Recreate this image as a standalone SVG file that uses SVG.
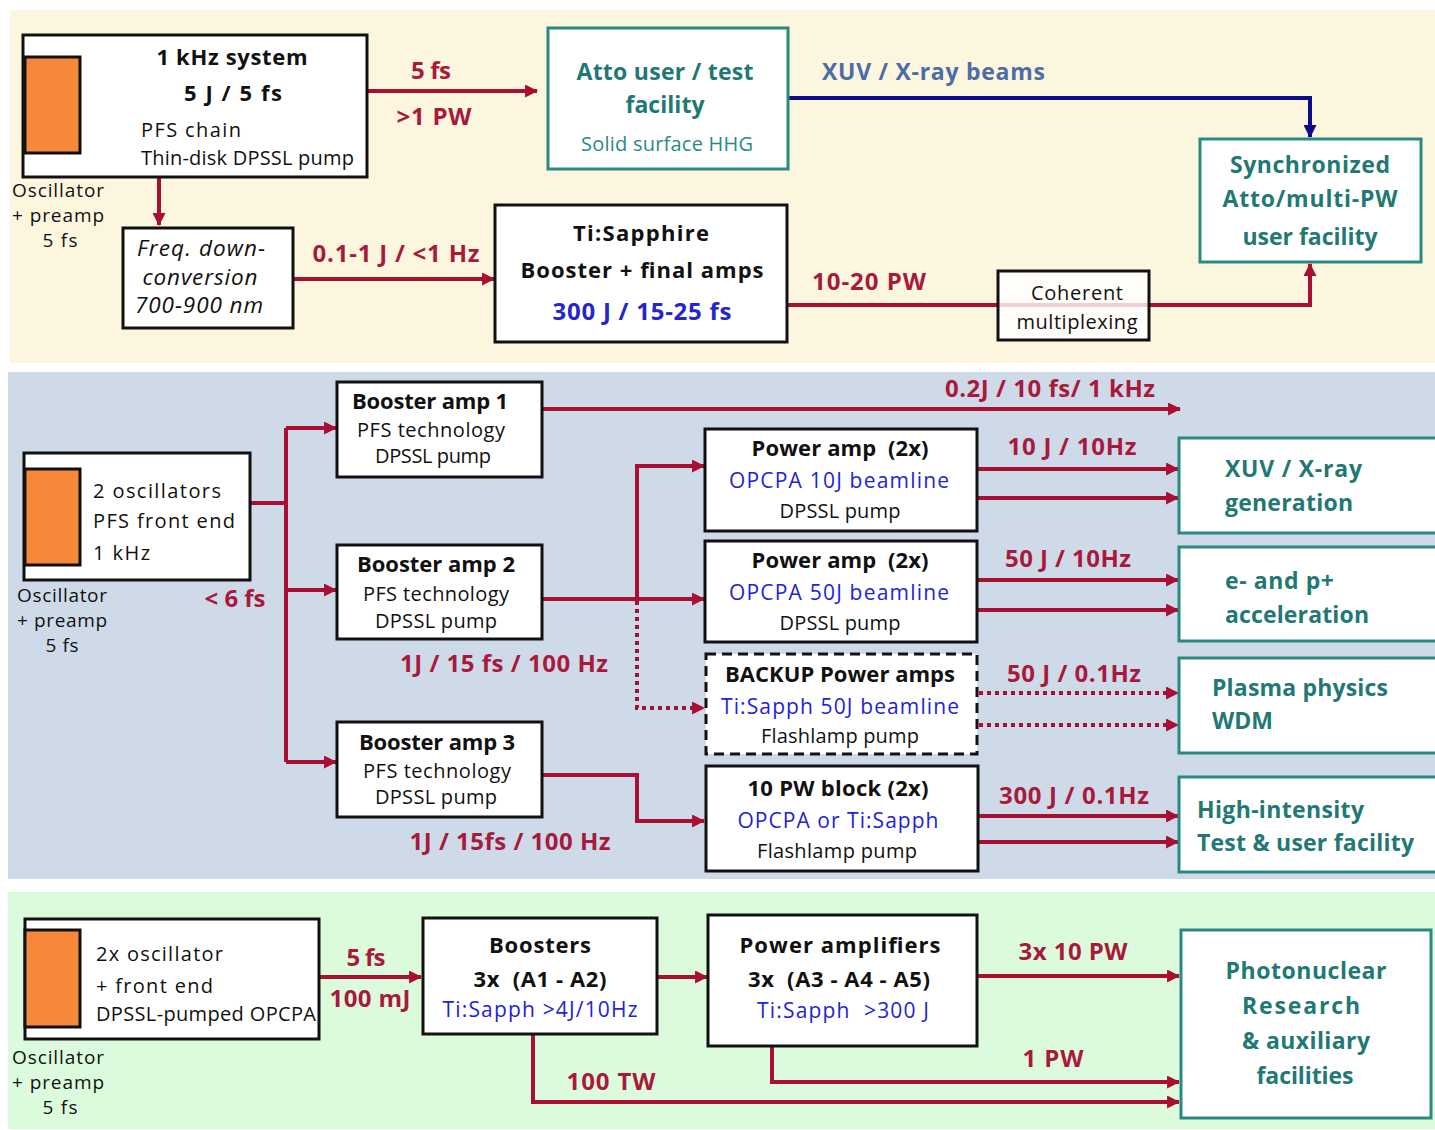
<svg xmlns="http://www.w3.org/2000/svg" width="1435" height="1130" viewBox="0 0 1435 1130">
  <style>
    text { font-family: "Open Sans", "Noto Sans", "Liberation Sans", sans-serif; }
    .box { fill: #ffffff; stroke: #111111; stroke-width: 3; }
    .dash { fill: #ffffff; stroke: #111111; stroke-width: 3; stroke-dasharray: 10 6; }
    .tealbox { fill: #ffffff; stroke: #2a8a82; stroke-width: 3; }
    .osc { fill: #f7883a; stroke: #111111; stroke-width: 3; }
    .red { fill: none; stroke: #a80f33; stroke-width: 4; }
    .reddot { fill: none; stroke: #a80f33; stroke-width: 4; stroke-dasharray: 4 4; }
    .navy { fill: none; stroke: #0b0b8c; stroke-width: 4; }
    .t { fill: #111111; font-size: 20px; }
    .tb { fill: #111111; font-weight: bold; font-size: 22px; }
    .lbl { fill: #a81a3c; font-weight: bold; font-size: 24px; }
    .blue { fill: #2323d6; font-size: 21px; }
    .teal { fill: #227873; font-weight: bold; font-size: 23px; }
    .tealn { fill: #2a8a82; font-size: 20px; }
    .cap { fill: #111111; font-size: 19px; }
    .it { fill: #111111; font-size: 22.5px; font-style: italic; }
    .mid { text-anchor: middle; }
  </style>
  <defs>
    <marker id="ar" viewBox="0 0 12 12" refX="11" refY="6" markerWidth="13" markerHeight="13" markerUnits="userSpaceOnUse" orient="auto">
      <path d="M0,0 L12,6 L0,12 Z" fill="#a80f33"/>
    </marker>
    <marker id="an" viewBox="0 0 12 12" refX="11" refY="6" markerWidth="13" markerHeight="13" markerUnits="userSpaceOnUse" orient="auto">
      <path d="M0,0 L12,6 L0,12 Z" fill="#0b0b8c"/>
    </marker>
  </defs>

  <!-- panel backgrounds -->
  <rect x="10" y="10" width="1425" height="353" fill="#fdf6df"/>
  <rect x="8" y="372" width="1427" height="507" fill="#cfdae9"/>
  <rect x="8" y="892" width="1427" height="237" fill="#dcfbdc"/>

  <!-- connectors -->
  <g id="connectors">
    <!-- top panel -->
    <path class="red" d="M367,91 H537" marker-end="url(#ar)"/>
    <path class="red" d="M159,177 V225" marker-end="url(#ar)"/>
    <path class="red" d="M293,279 H494" marker-end="url(#ar)"/>
    <path class="navy" d="M788,98 H1310 V137" marker-end="url(#an)"/>
    <path class="red" d="M787,305 H1310 V264" marker-end="url(#ar)"/>
    <!-- middle panel -->
    <path class="red" d="M250,503 H286"/>
    <path class="red" d="M286,428 V762"/>
    <path class="red" d="M286,428 H336" marker-end="url(#ar)"/>
    <path class="red" d="M286,590 H336" marker-end="url(#ar)"/>
    <path class="red" d="M286,762 H336" marker-end="url(#ar)"/>
    <path class="red" d="M542,409 H1180" marker-end="url(#ar)"/>
    <path class="red" d="M542,599 H704" marker-end="url(#ar)"/>
    <path class="red" d="M637,599 V466 H704" marker-end="url(#ar)"/>
    <path class="reddot" d="M637,601 V708 H704" marker-end="url(#ar)"/>
    <path class="red" d="M542,775 H637 V821 H704" marker-end="url(#ar)"/>
    <path class="red" d="M977,469 H1178" marker-end="url(#ar)"/>
    <path class="red" d="M977,498 H1178" marker-end="url(#ar)"/>
    <path class="red" d="M977,580 H1178" marker-end="url(#ar)"/>
    <path class="red" d="M977,610 H1178" marker-end="url(#ar)"/>
    <path class="reddot" d="M979,693 H1178" marker-end="url(#ar)"/>
    <path class="reddot" d="M979,725 H1178" marker-end="url(#ar)"/>
    <path class="red" d="M978,816 H1178" marker-end="url(#ar)"/>
    <path class="red" d="M978,842 H1178" marker-end="url(#ar)"/>
    <!-- bottom panel -->
    <path class="red" d="M319,977 H421" marker-end="url(#ar)"/>
    <path class="red" d="M657,977 H707" marker-end="url(#ar)"/>
    <path class="red" d="M977,976 H1179" marker-end="url(#ar)"/>
    <path class="red" d="M772,1046 V1082 H1179" marker-end="url(#ar)"/>
    <path class="red" d="M533,1034 V1102 H1179" marker-end="url(#ar)"/>
  </g>

  <!-- connector labels -->
  <g id="labels">
    <text class="lbl mid" x="431" y="79" textLength="40">5 fs</text>
    <text class="lbl mid" x="434" y="125" textLength="75">&gt;1 PW</text>
    <text class="lbl mid" x="396" y="262" textLength="167">0.1-1 J / &lt;1 Hz</text>
    <text x="822" y="80" font-size="23" font-weight="bold" fill="#4b6ca6" textLength="223">XUV / X-ray beams</text>
    <text class="lbl" x="812" y="290" textLength="114">10-20 PW</text>
    <text class="lbl mid" x="235" y="607" textLength="61">&lt; 6 fs</text>
    <text class="lbl mid" x="1050" y="397" textLength="210">0.2J / 10 fs/ 1 kHz</text>
    <text class="lbl mid" x="504" y="672" textLength="208">1J / 15 fs / 100 Hz</text>
    <text class="lbl mid" x="510" y="850" textLength="201">1J / 15fs / 100 Hz</text>
    <text class="lbl mid" x="1072" y="455" textLength="129">10 J / 10Hz</text>
    <text class="lbl mid" x="1068" y="567" textLength="126">50 J / 10Hz</text>
    <text class="lbl mid" x="1074" y="682" textLength="134">50 J / 0.1Hz</text>
    <text class="lbl mid" x="1074" y="804" textLength="150">300 J / 0.1Hz</text>
    <text class="lbl mid" x="366" y="966" textLength="39">5 fs</text>
    <text class="lbl mid" x="370" y="1007" textLength="81">100 mJ</text>
    <text class="lbl mid" x="611" y="1090" textLength="89">100 TW</text>
    <text class="lbl mid" x="1073" y="960" textLength="109">3x 10 PW</text>
    <text class="lbl mid" x="1053" y="1067" textLength="61">1 PW</text>
  </g>

  <!-- top panel nodes -->
  <g id="khz-system">
    <rect class="box" x="23" y="35" width="344" height="142"/>
    <rect class="osc" x="25" y="57" width="55" height="96"/>
    <text class="tb mid" x="232" y="65" font-size="23" textLength="151">1 kHz system</text>
    <text class="tb mid" x="233" y="101" font-size="24" textLength="98">5 J / 5 fs</text>
    <text class="t" x="141" y="137" textLength="100">PFS chain</text>
    <text class="t" x="141" y="165" textLength="213">Thin-disk DPSSL pump</text>
    <text class="cap" x="12" y="197" textLength="92">Oscillator</text>
    <text class="cap" x="12" y="222" textLength="92">+ preamp</text>
    <text class="cap mid" x="60" y="247" textLength="35">5 fs</text>
  </g>
  <g id="freq-down">
    <rect class="box" x="123" y="228" width="170" height="100"/>
    <text class="it mid" x="201" y="256" textLength="128">Freq. down-</text>
    <text class="it mid" x="200" y="285" textLength="115">conversion</text>
    <text class="it mid" x="199" y="313" textLength="128">700-900 nm</text>
  </g>
  <g id="atto-facility">
    <rect class="tealbox" x="548" y="28" width="240" height="141"/>
    <text class="teal mid" x="665" y="80" textLength="177">Atto user / test</text>
    <text class="teal mid" x="665" y="113" textLength="79">facility</text>
    <text class="tealn mid" x="667" y="151" textLength="172">Solid surface HHG</text>
  </g>
  <g id="tisapphire">
    <rect class="box" x="495" y="205" width="292" height="137"/>
    <text class="tb mid" x="641" y="241" font-size="23" textLength="136">Ti:Sapphire</text>
    <text class="tb mid" x="642" y="278" font-size="23" textLength="243">Booster + final amps</text>
    <text class="mid" x="642" y="320" font-size="24" font-weight="bold" fill="#2525cc" textLength="179">300 J / 15-25 fs</text>
  </g>
  <g id="coherent">
    <rect x="998" y="271" width="151" height="69" fill="#ffffff" fill-opacity="0.8" stroke="#111111" stroke-width="3"/>
    <text class="t mid" x="1077" y="300" textLength="92">Coherent</text>
    <text class="t mid" x="1077" y="329" textLength="121">multiplexing</text>
  </g>
  <g id="synchronized">
    <rect class="tealbox" x="1200" y="139" width="221" height="123"/>
    <text class="teal mid" x="1310" y="173" textLength="160">Synchronized</text>
    <text class="teal mid" x="1310" y="207" textLength="175">Atto/multi-PW</text>
    <text class="teal mid" x="1310" y="245" textLength="135">user facility</text>
  </g>

  <!-- middle panel nodes -->
  <g id="front-end">
    <rect class="box" x="24" y="453" width="226" height="127"/>
    <rect class="osc" x="25" y="469" width="55" height="96"/>
    <text class="t" x="93" y="498" font-size="21" textLength="128">2 oscillators</text>
    <text class="t" x="93" y="528" font-size="21" textLength="142">PFS front end</text>
    <text class="t" x="93" y="560" font-size="21" textLength="57">1 kHz</text>
    <text class="cap" x="17" y="602" textLength="90">Oscillator</text>
    <text class="cap" x="17" y="627" textLength="90">+ preamp</text>
    <text class="cap mid" x="62" y="652" textLength="33">5 fs</text>
  </g>
  <g id="booster-1">
    <rect class="box" x="337" y="382" width="205" height="95"/>
    <text class="tb mid" x="430" y="409" textLength="156">Booster amp 1</text>
    <text class="t mid" x="431" y="437" textLength="148">PFS technology</text>
    <text class="t mid" x="433" y="463" textLength="116">DPSSL pump</text>
  </g>
  <g id="booster-2">
    <rect class="box" x="337" y="545" width="205" height="94"/>
    <text class="tb mid" x="436" y="572" textLength="158">Booster amp 2</text>
    <text class="t mid" x="436" y="601" textLength="146">PFS technology</text>
    <text class="t mid" x="436" y="628" textLength="122">DPSSL pump</text>
  </g>
  <g id="booster-3">
    <rect class="box" x="337" y="722" width="205" height="95"/>
    <text class="tb mid" x="437" y="750" textLength="156">Booster amp 3</text>
    <text class="t mid" x="437" y="778" textLength="148">PFS technology</text>
    <text class="t mid" x="436" y="804" textLength="122">DPSSL pump</text>
  </g>
  <g id="power-amp-10j">
    <rect class="box" x="705" y="429" width="272" height="102"/>
    <text class="tb mid" x="840" y="456" textLength="177">Power amp&#160; (2x)</text>
    <text class="blue mid" x="839" y="488" textLength="220">OPCPA 10J beamline</text>
    <text class="t mid" x="840" y="518" textLength="121">DPSSL pump</text>
  </g>
  <g id="power-amp-50j">
    <rect class="box" x="705" y="541" width="272" height="101"/>
    <text class="tb mid" x="840" y="568" textLength="177">Power amp&#160; (2x)</text>
    <text class="blue mid" x="839" y="600" textLength="220">OPCPA 50J beamline</text>
    <text class="t mid" x="840" y="630" textLength="121">DPSSL pump</text>
  </g>
  <g id="backup-amps">
    <rect class="dash" x="706" y="654" width="271" height="100"/>
    <text class="tb mid" x="840" y="682" textLength="230">BACKUP Power amps</text>
    <text class="blue mid" x="840" y="714" textLength="238">Ti:Sapph 50J beamline</text>
    <text class="t mid" x="840" y="743" textLength="158">Flashlamp pump</text>
  </g>
  <g id="pw-block">
    <rect class="box" x="706" y="766" width="272" height="105"/>
    <text class="tb mid" x="838" y="796" textLength="181">10 PW block (2x)</text>
    <text class="blue mid" x="838" y="828" textLength="201">OPCPA or Ti:Sapph</text>
    <text class="t mid" x="837" y="858" textLength="160">Flashlamp pump</text>
  </g>
  <g id="xuv-generation">
    <rect class="tealbox" x="1179" y="438" width="270" height="95"/>
    <text class="teal" x="1225" y="477" textLength="137">XUV / X-ray</text>
    <text class="teal" x="1225" y="511" textLength="128">generation</text>
  </g>
  <g id="acceleration">
    <rect class="tealbox" x="1179" y="547" width="270" height="94"/>
    <text class="teal" x="1225" y="589" textLength="109">e- and p+</text>
    <text class="teal" x="1225" y="623" textLength="144">acceleration</text>
  </g>
  <g id="plasma-physics">
    <rect class="tealbox" x="1179" y="658" width="270" height="95"/>
    <text class="teal" x="1212" y="696" textLength="176">Plasma physics</text>
    <text class="teal" x="1212" y="729">WDM</text>
  </g>
  <g id="high-intensity">
    <rect class="tealbox" x="1179" y="777" width="270" height="95"/>
    <text class="teal" x="1197" y="818" textLength="167">High-intensity</text>
    <text class="teal" x="1197" y="851" textLength="217">Test &amp; user facility</text>
  </g>

  <!-- bottom panel nodes -->
  <g id="opcpa-front-end">
    <rect class="box" x="25" y="919" width="294" height="120"/>
    <rect class="osc" x="25" y="930" width="55" height="97"/>
    <text class="t" x="96" y="961" textLength="127">2x oscillator</text>
    <text class="t" x="96" y="993" textLength="117">+ front end</text>
    <text class="t" x="96" y="1021" textLength="220">DPSSL-pumped OPCPA</text>
    <text class="cap" x="12" y="1064" textLength="92">Oscillator</text>
    <text class="cap" x="12" y="1089" textLength="92">+ preamp</text>
    <text class="cap mid" x="60" y="1114" textLength="35">5 fs</text>
  </g>
  <g id="boosters">
    <rect class="box" x="423" y="918" width="234" height="116"/>
    <text class="tb mid" x="540" y="953" font-size="23" textLength="102">Boosters</text>
    <text class="tb mid" x="540" y="987" textLength="133">3x&#160; (A1 - A2)</text>
    <text class="blue mid" x="540" y="1017" font-size="20" textLength="195">Ti:Sapph &gt;4J/10Hz</text>
  </g>
  <g id="power-amplifiers">
    <rect class="box" x="708" y="915" width="269" height="131"/>
    <text class="tb mid" x="840" y="953" textLength="201">Power amplifiers</text>
    <text class="tb mid" x="839" y="987" textLength="182">3x&#160; (A3 - A4 - A5)</text>
    <text class="blue mid" x="843" y="1018" font-size="20" textLength="172">Ti:Sapph&#160; &gt;300 J</text>
  </g>
  <g id="photonuclear">
    <rect class="tealbox" x="1181" y="930" width="250" height="188"/>
    <text class="teal mid" x="1306" y="979" textLength="161">Photonuclear</text>
    <text class="teal mid" x="1301" y="1014" textLength="118">Research</text>
    <text class="teal mid" x="1306" y="1049" textLength="128">&amp; auxiliary</text>
    <text class="teal mid" x="1305" y="1084" textLength="97">facilities</text>
  </g>
</svg>
